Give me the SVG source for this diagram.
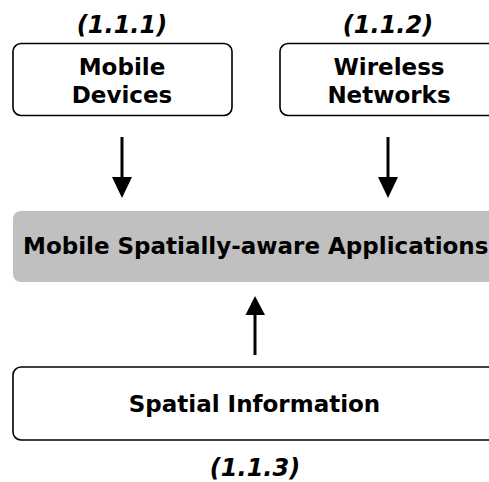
<svg xmlns="http://www.w3.org/2000/svg" width="489" height="482" viewBox="0 0 489 482">
<style>
.box{fill:#fff;stroke:#000;stroke-width:1.6}
.t{font-family:"DejaVu Sans",Verdana,sans-serif;font-weight:bold;font-size:23px;fill:#000}
.c{text-anchor:middle}
.i{font-style:italic;font-size:24px}
.sh{stroke:#000;stroke-width:3;fill:none}
.hd{fill:#000}
</style>
<rect width="489" height="482" fill="#fff"/>
<g id="label-111"><text class="t i c" x="122" y="33">(1.1.1)</text></g>
<g id="label-112"><text class="t i c" x="388" y="33">(1.1.2)</text></g>
<g id="node-mobile-devices">
<rect class="box" x="13" y="43.5" width="219" height="72" rx="8"/>
<text class="t c" x="122" y="75">Mobile</text>
<text class="t c" x="122" y="103">Devices</text>
</g>
<g id="node-wireless-networks">
<rect class="box" x="280" y="43.5" width="230" height="72" rx="8"/>
<text class="t c" x="389" y="75">Wireless</text>
<text class="t c" x="389" y="103">Networks</text>
</g>
<g id="node-apps">
<rect x="13" y="211" width="500" height="71" rx="8" fill="#c0c0c0"/>
<text class="t" x="23" y="254">Mobile Spatially-aware Applications</text>
</g>
<g id="node-spatial-info">
<rect class="box" x="13" y="367" width="500" height="73" rx="8"/>
<text class="t c" x="254.5" y="412">Spatial Information</text>
</g>
<g id="label-113"><text class="t i c" x="255" y="476">(1.1.3)</text></g>
<g id="connectors">
<line class="sh" x1="122" y1="137" x2="122" y2="180"/>
<polygon class="hd" points="112,177 132,177 122,198"/>
<line class="sh" x1="388" y1="137" x2="388" y2="180"/>
<polygon class="hd" points="378,177 398,177 388,198"/>
<line class="sh" x1="255" y1="355" x2="255" y2="312"/>
<polygon class="hd" points="245.5,315 265,315 255,296"/>
</g>
</svg>
